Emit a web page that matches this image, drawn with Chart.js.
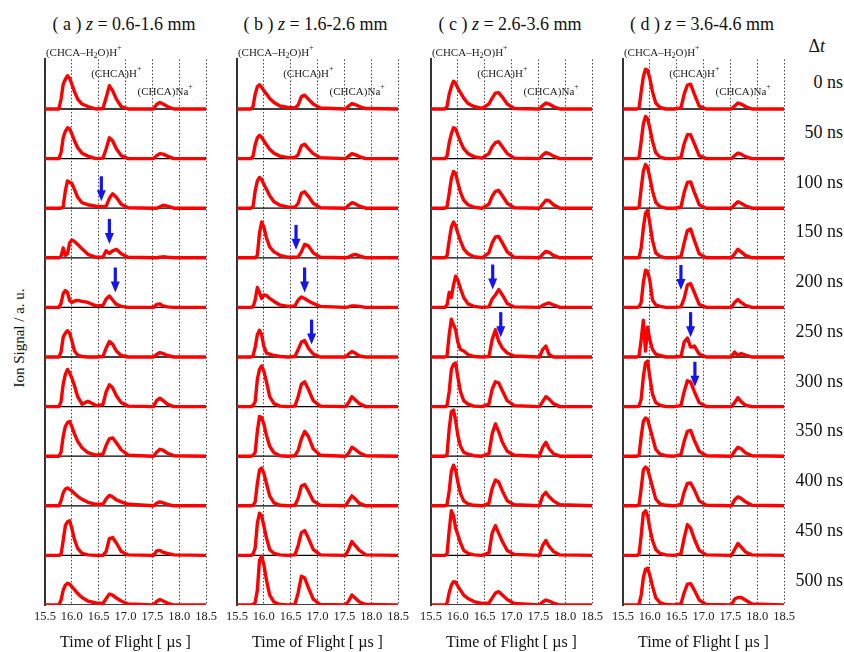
<!DOCTYPE html>
<html>
<head>
<meta charset="utf-8">
<script src="https://cdn.jsdelivr.net/npm/chart.js@4.4.1/dist/chart.umd.min.js"></script>
<style>
    body { margin: 0; background: #fff; width: 844px; height: 652px; position: relative; overflow: hidden;
           font-family: "Liberation Serif", "Times New Roman", serif; color: #111; }
    canvas { position: absolute; }
    .ttl { position: absolute; top: 14px; line-height: 20px; font-size: 18px; white-space: nowrap; transform: translateX(-50%); }
    .dt { position: absolute; right: 1px; font-size: 18px; line-height: 20px; white-space: nowrap; transform: translateY(-50%); }
    .ylab { position: absolute; left: 19px; top: 338px; font-size: 15px; white-space: nowrap; transform: translate(-50%, -50%) rotate(-90deg); }
</style>
</head>
<body>
<div class="ylab">Ion Signal / a. u.</div>

<script>
// TOF sampling points (µs), shared by every trace
const tofGrid = [15.50, 15.76, 15.80, 15.84, 15.88, 15.92, 15.96, 16.00, 16.05, 16.11, 16.19, 16.30, 16.45,
                 16.58, 16.64, 16.70, 16.76, 16.83, 16.92, 17.05, 17.52, 17.58, 17.64, 17.70, 17.78, 17.90, 18.50];

const xTicks = [15.5, 16.0, 16.5, 17.0, 17.5, 18.0, 18.5];
const delayLabels = ['0 ns', '50 ns', '100 ns', '150 ns', '200 ns', '250 ns', '300 ns', '350 ns', '400 ns', '450 ns', '500 ns'];
const panelLetters = ['a', 'b', 'c', 'd'];
const panelRanges = ['0.6-1.6', '1.6-2.6', '2.6-3.6', '3.6-4.6'];

// ion signal, fraction of one row height, one row per delay
const signalA = [
    [0, 0.00, 0.20, 0.50, 0.60, 0.67, 0.62, 0.50, 0.35, 0.20, 0.10, 0.05, 0.00, 0.01, 0.23, 0.47, 0.37, 0.20, 0.05, 0.00, 0.00, 0.09, 0.13, 0.10, 0.05, 0.00, 0],
    [0, 0.00, 0.12, 0.42, 0.55, 0.62, 0.60, 0.50, 0.36, 0.22, 0.11, 0.05, 0.00, 0.01, 0.20, 0.42, 0.36, 0.20, 0.06, 0.00, 0.00, 0.06, 0.10, 0.09, 0.05, 0.00, 0],
    [0, 0.00, 0.00, 0.03, 0.35, 0.55, 0.52, 0.50, 0.38, 0.22, 0.11, 0.07, 0.04, 0.03, 0.04, 0.20, 0.29, 0.22, 0.08, 0.01, 0.00, 0.00, 0.03, 0.06, 0.04, 0.00, 0],
    [0, 0.00, 0.03, 0.20, 0.05, 0.08, 0.30, 0.36, 0.33, 0.27, 0.18, 0.07, 0.01, 0.01, 0.14, 0.09, 0.14, 0.17, 0.08, 0.01, 0.00, 0.00, 0.01, 0.02, 0.01, 0.00, 0],
    [0, 0.00, 0.08, 0.28, 0.34, 0.30, 0.14, 0.10, 0.13, 0.14, 0.12, 0.10, 0.03, 0.04, 0.17, 0.23, 0.15, 0.06, 0.02, 0.00, 0.00, 0.06, 0.07, 0.03, 0.01, 0.00, 0],
    [0, 0.00, 0.10, 0.40, 0.48, 0.53, 0.48, 0.33, 0.12, 0.04, 0.01, 0.00, 0.00, 0.01, 0.18, 0.31, 0.26, 0.12, 0.03, 0.00, 0.00, 0.05, 0.09, 0.07, 0.03, 0.00, 0],
    [0, 0.00, 0.10, 0.45, 0.65, 0.75, 0.68, 0.58, 0.42, 0.20, 0.05, 0.11, 0.02, 0.04, 0.30, 0.44, 0.38, 0.22, 0.08, 0.01, 0.00, 0.12, 0.17, 0.12, 0.05, 0.00, 0],
    [0, 0.00, 0.08, 0.40, 0.60, 0.68, 0.70, 0.60, 0.45, 0.30, 0.17, 0.07, 0.02, 0.04, 0.22, 0.35, 0.37, 0.27, 0.13, 0.02, 0.00, 0.08, 0.14, 0.12, 0.06, 0.01, 0],
    [0, 0.00, 0.10, 0.26, 0.34, 0.36, 0.33, 0.30, 0.25, 0.19, 0.13, 0.07, 0.03, 0.03, 0.14, 0.21, 0.18, 0.12, 0.08, 0.03, 0.00, 0.05, 0.08, 0.06, 0.03, 0.00, 0],
    [0, 0.00, 0.02, 0.30, 0.60, 0.68, 0.70, 0.55, 0.32, 0.14, 0.04, 0.01, 0.00, 0.00, 0.08, 0.34, 0.36, 0.25, 0.08, 0.01, 0.00, 0.09, 0.10, 0.06, 0.04, 0.01, 0],
    [0, 0.00, 0.10, 0.30, 0.40, 0.44, 0.42, 0.37, 0.31, 0.23, 0.15, 0.08, 0.04, 0.03, 0.13, 0.22, 0.20, 0.14, 0.08, 0.02, 0.00, 0.07, 0.11, 0.08, 0.04, 0.00, 0]
];

const signalB = [
    [0, 0.00, 0.05, 0.30, 0.45, 0.49, 0.44, 0.37, 0.30, 0.21, 0.13, 0.06, 0.03, 0.02, 0.08, 0.25, 0.28, 0.20, 0.10, 0.02, 0.00, 0.06, 0.11, 0.09, 0.05, 0.01, 0],
    [0, 0.00, 0.05, 0.28, 0.42, 0.47, 0.43, 0.36, 0.28, 0.19, 0.11, 0.05, 0.02, 0.02, 0.08, 0.26, 0.29, 0.20, 0.10, 0.02, 0.00, 0.05, 0.10, 0.08, 0.04, 0.00, 0],
    [0, 0.00, 0.03, 0.35, 0.55, 0.62, 0.58, 0.48, 0.38, 0.25, 0.13, 0.06, 0.02, 0.02, 0.10, 0.30, 0.33, 0.24, 0.10, 0.01, 0.00, 0.06, 0.11, 0.09, 0.04, 0.00, 0],
    [0, 0.00, 0.00, 0.00, 0.05, 0.50, 0.72, 0.62, 0.40, 0.22, 0.12, 0.05, 0.01, 0.01, 0.02, 0.12, 0.27, 0.24, 0.10, 0.01, 0.00, 0.01, 0.05, 0.07, 0.04, 0.00, 0],
    [0, 0.00, 0.01, 0.15, 0.40, 0.30, 0.18, 0.25, 0.24, 0.18, 0.12, 0.05, 0.02, 0.03, 0.15, 0.21, 0.18, 0.13, 0.08, 0.02, 0.00, 0.01, 0.03, 0.03, 0.02, 0.00, 0],
    [0, 0.00, 0.02, 0.20, 0.45, 0.54, 0.45, 0.22, 0.08, 0.06, 0.03, 0.01, 0.00, 0.01, 0.15, 0.30, 0.33, 0.18, 0.06, 0.00, 0.00, 0.06, 0.11, 0.08, 0.02, 0.00, 0],
    [0, 0.00, 0.02, 0.10, 0.55, 0.75, 0.82, 0.72, 0.50, 0.20, 0.06, 0.01, 0.00, 0.01, 0.20, 0.45, 0.50, 0.35, 0.12, 0.01, 0.00, 0.08, 0.20, 0.14, 0.06, 0.00, 0],
    [0, 0.00, 0.01, 0.08, 0.50, 0.80, 0.78, 0.65, 0.42, 0.20, 0.07, 0.01, 0.00, 0.01, 0.12, 0.35, 0.50, 0.40, 0.15, 0.02, 0.00, 0.06, 0.18, 0.14, 0.07, 0.01, 0],
    [0, 0.00, 0.01, 0.08, 0.45, 0.72, 0.76, 0.66, 0.45, 0.20, 0.06, 0.01, 0.00, 0.01, 0.15, 0.40, 0.43, 0.30, 0.10, 0.01, 0.00, 0.10, 0.20, 0.14, 0.05, 0.00, 0],
    [0, 0.00, 0.02, 0.15, 0.65, 0.85, 0.80, 0.60, 0.35, 0.12, 0.04, 0.01, 0.00, 0.01, 0.20, 0.46, 0.50, 0.35, 0.12, 0.01, 0.00, 0.12, 0.28, 0.20, 0.10, 0.01, 0],
    [0, 0.00, 0.01, 0.05, 0.30, 0.90, 0.98, 0.82, 0.50, 0.20, 0.06, 0.01, 0.00, 0.01, 0.25, 0.58, 0.55, 0.35, 0.12, 0.01, 0.00, 0.08, 0.20, 0.14, 0.06, 0.01, 0]
];

const signalC = [
    [0, 0.00, 0.05, 0.30, 0.45, 0.56, 0.52, 0.42, 0.33, 0.22, 0.11, 0.05, 0.01, 0.10, 0.22, 0.32, 0.33, 0.24, 0.10, 0.01, 0.00, 0.07, 0.12, 0.10, 0.05, 0.00, 0],
    [0, 0.00, 0.05, 0.32, 0.50, 0.62, 0.60, 0.48, 0.34, 0.20, 0.10, 0.04, 0.01, 0.10, 0.24, 0.32, 0.34, 0.24, 0.10, 0.01, 0.00, 0.07, 0.12, 0.10, 0.05, 0.00, 0],
    [0, 0.00, 0.03, 0.30, 0.60, 0.74, 0.70, 0.52, 0.32, 0.16, 0.07, 0.02, 0.00, 0.08, 0.24, 0.34, 0.36, 0.25, 0.10, 0.01, 0.00, 0.08, 0.16, 0.15, 0.07, 0.00, 0],
    [0, 0.00, 0.04, 0.35, 0.62, 0.72, 0.65, 0.50, 0.34, 0.18, 0.08, 0.02, 0.00, 0.10, 0.30, 0.42, 0.43, 0.30, 0.12, 0.01, 0.00, 0.07, 0.13, 0.11, 0.05, 0.00, 0],
    [0, 0.00, 0.05, 0.30, 0.20, 0.45, 0.63, 0.55, 0.38, 0.20, 0.07, 0.02, 0.00, 0.01, 0.17, 0.25, 0.36, 0.25, 0.08, 0.01, 0.00, 0.04, 0.07, 0.09, 0.05, 0.00, 0],
    [0, 0.00, 0.02, 0.45, 0.76, 0.65, 0.55, 0.30, 0.15, 0.12, 0.05, 0.01, 0.00, 0.01, 0.35, 0.55, 0.32, 0.18, 0.08, 0.02, 0.00, 0.15, 0.22, 0.05, 0.00, 0.00, 0],
    [0, 0.00, 0.02, 0.30, 0.75, 0.85, 0.88, 0.60, 0.30, 0.12, 0.05, 0.01, 0.00, 0.05, 0.35, 0.50, 0.48, 0.32, 0.12, 0.02, 0.00, 0.10, 0.20, 0.15, 0.06, 0.00, 0],
    [0, 0.00, 0.03, 0.55, 0.90, 0.93, 0.72, 0.42, 0.20, 0.08, 0.04, 0.01, 0.00, 0.05, 0.45, 0.65, 0.50, 0.28, 0.10, 0.02, 0.00, 0.18, 0.28, 0.15, 0.05, 0.00, 0],
    [0, 0.00, 0.02, 0.30, 0.70, 0.82, 0.72, 0.48, 0.25, 0.10, 0.04, 0.01, 0.00, 0.05, 0.35, 0.52, 0.48, 0.30, 0.10, 0.02, 0.00, 0.20, 0.27, 0.18, 0.10, 0.02, 0],
    [0, 0.00, 0.03, 0.50, 0.90, 0.80, 0.55, 0.42, 0.25, 0.10, 0.04, 0.01, 0.00, 0.05, 0.45, 0.60, 0.45, 0.28, 0.10, 0.02, 0.00, 0.20, 0.30, 0.18, 0.08, 0.01, 0],
    [0, 0.00, 0.04, 0.25, 0.40, 0.47, 0.46, 0.38, 0.30, 0.20, 0.13, 0.07, 0.03, 0.04, 0.14, 0.24, 0.27, 0.20, 0.11, 0.03, 0.00, 0.06, 0.10, 0.08, 0.04, 0.00, 0]
];

const signalD = [
    [0, 0.00, 0.02, 0.35, 0.65, 0.80, 0.78, 0.62, 0.35, 0.12, 0.03, 0.00, 0.00, 0.02, 0.30, 0.48, 0.50, 0.30, 0.06, 0.00, 0.00, 0.06, 0.12, 0.10, 0.05, 0.00, 0],
    [0, 0.00, 0.02, 0.35, 0.70, 0.85, 0.80, 0.62, 0.35, 0.12, 0.03, 0.00, 0.00, 0.02, 0.30, 0.48, 0.48, 0.30, 0.06, 0.00, 0.00, 0.06, 0.11, 0.09, 0.04, 0.00, 0],
    [0, 0.00, 0.02, 0.40, 0.75, 0.88, 0.82, 0.62, 0.35, 0.12, 0.03, 0.00, 0.00, 0.02, 0.32, 0.52, 0.53, 0.32, 0.07, 0.00, 0.00, 0.07, 0.13, 0.10, 0.05, 0.00, 0],
    [0, 0.00, 0.01, 0.20, 0.60, 0.90, 0.96, 0.70, 0.35, 0.10, 0.03, 0.00, 0.00, 0.02, 0.30, 0.55, 0.58, 0.35, 0.08, 0.00, 0.00, 0.08, 0.17, 0.12, 0.05, 0.00, 0],
    [0, 0.00, 0.01, 0.10, 0.50, 0.75, 0.72, 0.55, 0.15, 0.05, 0.02, 0.00, 0.00, 0.01, 0.18, 0.45, 0.48, 0.30, 0.06, 0.00, 0.00, 0.10, 0.16, 0.10, 0.04, 0.00, 0],
    [0, 0.00, 0.02, 0.35, 0.74, 0.12, 0.60, 0.35, 0.15, 0.06, 0.03, 0.00, 0.00, 0.01, 0.30, 0.38, 0.20, 0.22, 0.06, 0.00, 0.00, 0.10, 0.03, 0.07, 0.04, 0.00, 0],
    [0, 0.00, 0.01, 0.15, 0.60, 0.88, 0.92, 0.60, 0.25, 0.08, 0.03, 0.00, 0.00, 0.02, 0.30, 0.52, 0.50, 0.30, 0.08, 0.00, 0.00, 0.08, 0.18, 0.10, 0.03, 0.00, 0],
    [0, 0.00, 0.02, 0.40, 0.70, 0.77, 0.74, 0.58, 0.38, 0.14, 0.04, 0.01, 0.00, 0.03, 0.30, 0.50, 0.52, 0.32, 0.10, 0.01, 0.00, 0.10, 0.18, 0.15, 0.07, 0.01, 0],
    [0, 0.00, 0.02, 0.35, 0.72, 0.78, 0.74, 0.58, 0.38, 0.14, 0.04, 0.01, 0.00, 0.03, 0.28, 0.45, 0.46, 0.32, 0.10, 0.01, 0.00, 0.12, 0.18, 0.15, 0.08, 0.01, 0],
    [0, 0.00, 0.02, 0.40, 0.85, 0.90, 0.80, 0.55, 0.30, 0.12, 0.04, 0.01, 0.00, 0.03, 0.35, 0.62, 0.55, 0.33, 0.10, 0.01, 0.00, 0.12, 0.24, 0.17, 0.07, 0.01, 0],
    [0, 0.00, 0.02, 0.20, 0.55, 0.72, 0.74, 0.60, 0.38, 0.15, 0.05, 0.01, 0.00, 0.02, 0.25, 0.42, 0.43, 0.30, 0.10, 0.01, 0.00, 0.12, 0.15, 0.15, 0.10, 0.02, 0]
];
const signals = [signalA, signalB, signalC, signalD];

// blue arrows: panel index, row index, TOF (µs), tip height (row fraction)
const arrowPanel = [0, 0, 0, 1, 1, 1, 2, 2, 3, 3, 3];
const arrowRow   = [2, 3, 4, 3, 4, 5, 4, 5, 4, 5, 6];
const arrowTof   = [16.55, 16.70, 16.81, 16.60, 16.76, 16.89, 16.65, 16.80, 16.58, 16.76, 16.84];
const arrowTip   = [0.14, 0.28, 0.30, 0.16, 0.30, 0.25, 0.36, 0.40, 0.35, 0.40, 0.40];

const NROWS = delayLabels.length;
const plotLefts = [44, 235.5, 430, 622];
const plotWidth = 163;
const SIDE = 14;
const FONT = '"Liberation Serif", "Times New Roman", serif';

// label with sub/superscript pieces, drawn left to right
function drawRich(ctx, x, y, parts) {
    parts.forEach(p => {
        const size = p.s ? 8 : 11;
        ctx.font = `${size}px ${FONT}`;
        ctx.fillText(p.t, x, y + (p.s || 0));
        x += ctx.measureText(p.t).width;
    });
}

const peakLabels = [
    [{t: '(CHCA–H'}, {t: '2', s: 3}, {t: 'O)H'}, {t: '+', s: -5}],
    [{t: '(CHCA)H'}, {t: '+', s: -5}],
    [{t: '(CHCA)Na'}, {t: '+', s: -5}]
];

const overlayPlugin = {
    id: 'overlay',
    afterDatasetsDraw(chart) {
        const {ctx, scales: {x, y}} = chart;
        const p = chart.options.plugins.overlay.panel;
        ctx.save();
        // peak names above the first trace
        ctx.fillStyle = '#222';
        ctx.textBaseline = 'middle';
        const lx = [15.518, 16.36, 17.225];
        const ly = [11.13, 10.706, 10.343];
        peakLabels.forEach((parts, i) => drawRich(ctx, x.getPixelForValue(lx[i]), y.getPixelForValue(ly[i]), parts));
        // arrows
        ctx.fillStyle = '#1414f0';
        arrowPanel.forEach((ap, i) => {
            if (ap !== p) return;
            const px = x.getPixelForValue(arrowTof[i]);
            const tipY = y.getPixelForValue(NROWS - 1 - arrowRow[i] + arrowTip[i]);
            ctx.fillRect(px - 1.6, tipY - 25, 3.2, 15);
            ctx.beginPath();
            ctx.moveTo(px - 4.5, tipY - 11);
            ctx.lineTo(px + 4.5, tipY - 11);
            ctx.lineTo(px, tipY);
            ctx.closePath();
            ctx.fill();
        });
        ctx.restore();
    }
};

panelLetters.forEach((letter, p) => {
    const title = document.createElement('div');
    title.className = 'ttl';
    title.style.left = (plotLefts[p] + 80) + 'px';
    title.innerHTML = `( ${letter} ) <i>z</i> = ${panelRanges[p]} mm`;
    document.body.appendChild(title);

    const canvas = document.createElement('canvas');
    canvas.width = plotWidth + 2 * SIDE;
    canvas.height = 612;
    canvas.style.left = (plotLefts[p] - SIDE) + 'px';
    canvas.style.top = '40px';
    document.body.appendChild(canvas);

    // red spectra on top
    const traces = signals[p].map((row, r) => ({
        data: tofGrid.map((t, i) => ({x: t, y: NROWS - 1 - r + row[i]})),
        borderColor: 'rgb(255, 0, 0)',
        borderWidth: 3.4,
        borderJoinStyle: 'round',
        pointRadius: 0,
        fill: false,
        tension: 0,
        order: 0
    }));
    // black zero line, only where a peak lifts the trace off it
    const onPeak = (row, i) => [i - 1, i, i + 1].some(k => row[k] > 0.015);
    const baselines = signals[p].map((row, r) => ({
        data: tofGrid.map((t, i) => ({x: t, y: onPeak(row, i) ? NROWS - 1 - r : null})),
        borderColor: '#000',
        borderWidth: 1.3,
        pointRadius: 0,
        spanGaps: false,
        fill: false,
        order: 1
    }));

    new Chart(canvas, {
        type: 'line',
        data: {datasets: traces.concat(baselines)},
        options: {
            responsive: false,
            animation: false,
            devicePixelRatio: 1,
            layout: {padding: {left: SIDE, right: SIDE, top: 19.4, bottom: 0}},
            plugins: {legend: {display: false}, tooltip: {enabled: false}, overlay: {panel: p}},
            scales: {
                x: {
                    type: 'linear',
                    min: 15.5, max: 18.5,
                    afterBuildTicks: s => { s.ticks = xTicks.map(v => ({value: v})); },
                    afterFit: s => { s.height = 47; },
                    ticks: {
                        padding: 4,
                        color: '#222',
                        font: {family: FONT, size: 12.5},
                        callback: v => v.toFixed(1),
                        maxRotation: 0
                    },
                    grid: {
                        drawTicks: false,
                        lineWidth: 1,
                        color: c => (c.tick && c.tick.value === 15.5 ? 'transparent' : '#444')
                    },
                    border: {display: false, dash: [1.5, 2]},
                    title: {
                        display: true,
                        text: 'Time of Flight [ µs ]',
                        color: '#111',
                        font: {family: FONT, size: 16},
                        padding: {top: 0, bottom: 0}
                    }
                },
                y: {
                    min: 0, max: NROWS,
                    afterFit: s => { s.width = 0; },
                    ticks: {display: false},
                    grid: {display: false},
                    border: {display: true, color: '#333', width: 2}
                }
            }
        },
        plugins: [overlayPlugin]
    });
});

// delay labels on the right
const dt = document.createElement('div');
dt.className = 'dt';
dt.style.top = '46px';
dt.style.right = '19px';
dt.innerHTML = 'Δ<i>t</i>';
document.body.appendChild(dt);
delayLabels.forEach((txt, r) => {
    const el = document.createElement('div');
    el.className = 'dt';
    el.style.top = (82 + 49.75 * r) + 'px';
    el.textContent = txt;
    document.body.appendChild(el);
});
</script>
</body>
</html>
